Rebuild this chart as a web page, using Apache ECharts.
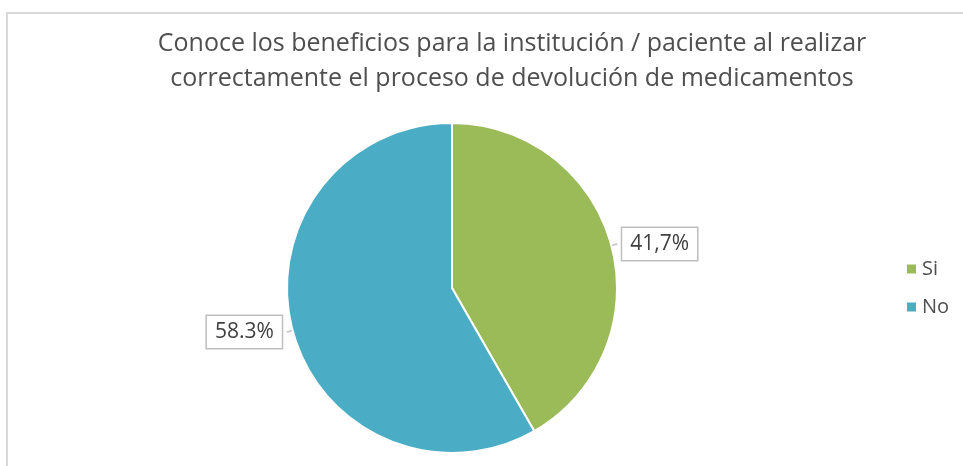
<!DOCTYPE html>
<html>
  <head>
    <meta charset="utf-8" />
    <title>ECharts</title>
    <style type="text/css">
      html, body { margin: 0; padding: 0; background: #fff; }
      #frame {
        position: absolute;
        left: 6px;
        top: 12px;
        width: 960px;
        height: 460px;
        border-left: 2px solid #d9d9d9;
        border-top: 2px solid #d9d9d9;
      }
    </style>
    <script type="text/javascript" src="https://cdn.jsdelivr.net/npm/echarts@6/dist/echarts.min.js"></script>
  </head>
  <body>
    <div id="frame"></div>
    <div id="main" style="position:absolute;left:0;top:0;width:963px;height:466px;"></div>
    <script type="text/javascript">
    var titleText = 'Conoce los beneficios para la institución / paciente al realizar\ncorrectamente el proceso de devolución de medicamentos';
    var categories = ['Si', 'No'];
    var values = [41.7, 58.3];
    var labelTexts = ['41,7%', '58.3%'];
    var colors = ['#9BBB59', '#4BACC6'];

    var dom = document.getElementById('main');
    var myChart = echarts.init(dom);

    var data = categories.map(function (name, i) {
      return { name: name, value: values[i], label: { formatter: labelTexts[i] } };
    });

    var option = {
      animation: false,
      color: colors,
      title: {
        text: titleText,
        left: 507,
        textAlign: 'center',
        top: 21,
        textStyle: {
          fontFamily: 'Open Sans',
          fontWeight: 'normal',
          fontSize: 25,
          lineHeight: 35,
          color: '#4f4f4f'
        }
      },
      legend: {
        orient: 'vertical',
        left: 900,
        top: 254,
        itemWidth: 11,
        itemHeight: 11,
        itemGap: 18,
        icon: 'rect',
        textStyle: {
          fontFamily: 'Open Sans',
          fontSize: 20,
          color: '#4f4f4f'
        },
        data: categories
      },
      series: [
        {
          type: 'pie',
          center: [452, 288],
          radius: 165,
          startAngle: 90,
          clockwise: true,
          itemStyle: { borderColor: '#fff', borderWidth: 2 },
          label: {
            show: true,
            position: 'outside',
            fontFamily: 'Open Sans',
            fontSize: 21,
            color: '#404040',
            backgroundColor: '#fff',
            borderColor: '#bfbfbf',
            borderWidth: 1.5,
            padding: [6, 8, 5, 8]
          },
          labelLine: {
            show: true,
            length: 6,
            length2: 0,
            lineStyle: { color: '#bfbfbf', width: 1.5 }
          },
          data: data
        }
      ]
    };

    myChart.setOption(option);
    </script>
  </body>
</html>
